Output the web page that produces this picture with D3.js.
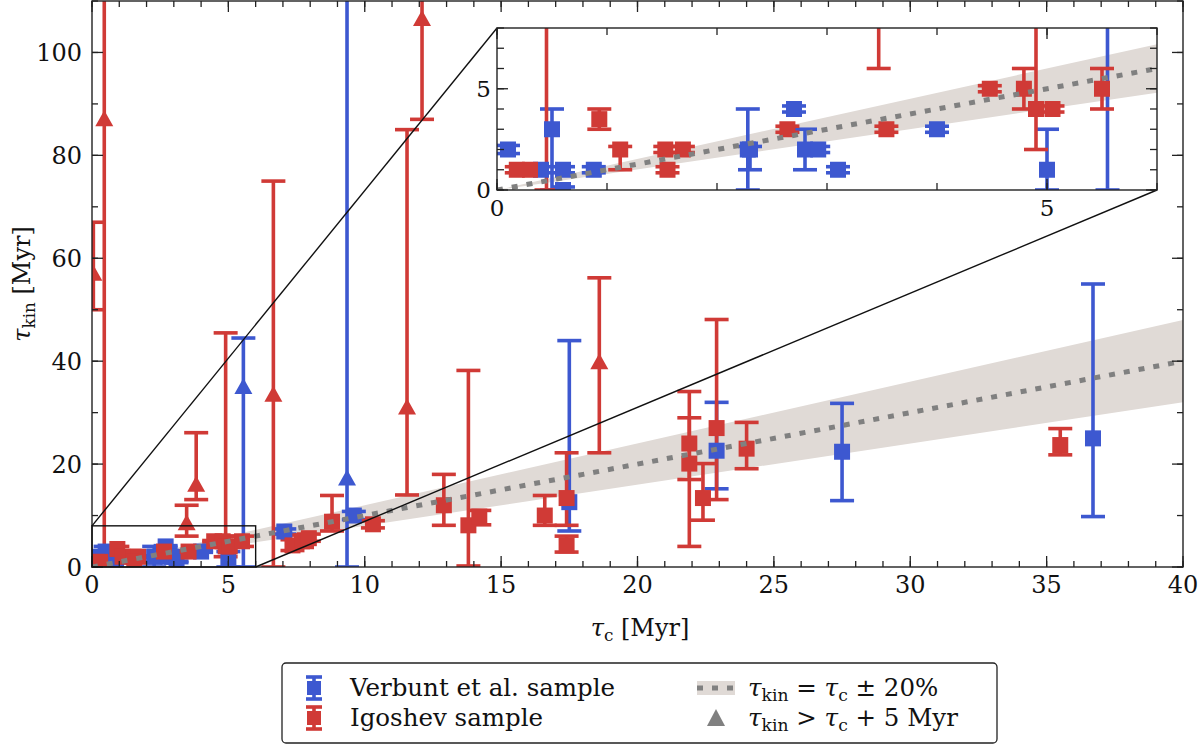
<!DOCTYPE html>
<html>
<head>
<meta charset="utf-8">
<script src="https://cdn.jsdelivr.net/npm/d3@7"></script>
<style>
  body { margin: 0; background: #fff; }
  svg { font-family: "DejaVu Serif", serif; }
</style>
</head>
<body>
<svg id="chart" width="1200" height="746"></svg>
<script>
// each point: [tau_c, tau_kin, lower, upper, drawn as triangle]
const verbunt = [
  [0.1, 2.0, 1.8, 2.2, 0], [0.4, 1.0, 0.85, 1.15, 0], [0.5, 3.0, 0.0, 4.0, 0],
  [0.6, 1.0, 0.85, 1.15, 0], [0.6, 0.0, -0.15, 0.15, 0], [0.88, 1.0, 0.85, 1.15, 0],
  [2.28, 2.0, 0.0, 4.0, 0], [2.3, 2.0, 1.0, 2.15, 0], [2.7, 4.0, 3.85, 4.15, 0],
  [2.8, 2.0, 1.0, 3.0, 0], [2.92, 2.0, 1.85, 2.15, 0], [3.1, 1.0, 0.85, 1.15, 0],
  [4.0, 3.0, 2.85, 3.15, 0], [5.0, 1.0, 0.0, 3.0, 0], [5.55, 35.0, 0.0, 44.5, 1],
  [7.05, 6.9, 6.4, 7.4, 0], [9.35, 17.2, 0.0, 130, 1], [9.6, 10.0, 9.2, 10.8, 0],
  [17.5, 12.6, 7.0, 44.0, 0], [22.9, 22.6, 15.2, 32.0, 0], [27.5, 22.4, 12.9, 31.8, 0],
  [36.7, 25.0, 9.8, 55.0, 0]
];
const igoshev = [
  [0.05, 57.0, 50.0, 67.0, 1], [0.45, 87.0, 0.0, 130, 1], [0.18, 1.0, 0.85, 1.15, 0],
  [0.3, 1.0, 0.85, 1.15, 0], [0.93, 3.5, 3.0, 4.0, 0], [1.12, 2.0, 1.0, 2.15, 0],
  [1.53, 2.0, 1.85, 2.15, 0], [1.69, 2.0, 1.85, 2.15, 0], [1.55, 1.0, 0.85, 1.15, 0],
  [2.64, 3.0, 2.85, 3.15, 0], [3.47, 8.5, 6.0, 12.0, 1], [3.54, 3.0, 2.85, 3.15, 0],
  [3.82, 16.0, 13.1, 26.1, 1], [4.48, 5.0, 4.85, 5.15, 0], [4.79, 5.0, 4.0, 6.0, 0],
  [4.9, 4.0, 2.0, 45.5, 0], [5.05, 4.0, 3.85, 4.15, 0], [5.5, 5.0, 4.0, 6.0, 0],
  [6.65, 33.5, 0.0, 75.0, 1], [7.35, 4.2, 3.2, 5.3, 0], [7.7, 5.0, 3.8, 6.2, 0],
  [7.95, 5.6, 5.0, 6.4, 0], [8.8, 8.8, 7.0, 13.9, 0], [10.3, 8.3, 7.6, 9.0, 0],
  [11.55, 31.0, 14.0, 85.0, 1], [12.1, 106.5, 87.0, 130, 1], [12.9, 12.0, 8.1, 18.0, 0],
  [13.8, 8.1, 0.2, 38.2, 0], [14.2, 9.8, 8.2, 11.0, 0], [16.6, 10.0, 8.1, 13.9, 0],
  [17.4, 13.4, 8.1, 22.2, 0], [17.4, 4.2, 2.9, 6.0, 0], [18.6, 39.8, 22.2, 56.2, 1],
  [21.9, 24.0, 4.0, 34.1, 0], [21.9, 20.1, 17.0, 29.0, 0], [22.4, 13.4, 9.1, 20.1, 0],
  [22.9, 27.0, 13.1, 48.1, 0], [24.0, 23.0, 19.1, 28.1, 0], [35.5, 23.7, 21.8, 26.9, 0]
];
const xTicks = [0, 5, 10, 15, 20, 25, 30, 35, 40];
const yTicks = [0, 20, 40, 60, 80, 100];
const insetXTicks = [0, 5];
const insetYTicks = [0, 5];
const xDomain = [0, 40], yDomain = [0, 110];
const insetXDomain = [0, 6], insetYDomain = [0, 8];
const bandFrac = 0.2;

const BLUE = "#3d58d0", RED = "#d03a36", BAND = "#e0dad6", DOTS = "#808080";

const svg = d3.select("#chart");

const x = d3.scaleLinear().domain(xDomain).range([92, 1183]);
const y = d3.scaleLinear().domain(yDomain).range([567, 1]);
const ix = d3.scaleLinear().domain(insetXDomain).range([497, 1157]);
const iy = d3.scaleLinear().domain(insetYDomain).range([190, 28]);

const defs = svg.append("defs");
defs.append("clipPath").attr("id", "clipMain").append("rect")
  .attr("x", 92).attr("y", 1).attr("width", 1091).attr("height", 566);
defs.append("clipPath").attr("id", "clipInset").append("rect")
  .attr("x", 497).attr("y", 28).attr("width", 660).attr("height", 162);

// text with italic tau and subscripts
function rich(sel, parts) {
  let shifted = false;
  parts.forEach(([txt, kind]) => {
    const t = sel.append("tspan").text(txt);
    if (kind === "i") t.attr("font-style", "italic");
    if (kind === "s") {
      t.attr("font-size", "70%").attr("dy", "0.3em");
      shifted = true;
    } else if (shifted) {
      t.attr("dy", "-0.21em");
      shifted = false;
    }
  });
  return sel;
}

function drawPanel(g, sx, sy, clipId) {
  const c = g.append("g").attr("clip-path", `url(#${clipId})`);
  const xd = sx.domain();
  // +-20% band
  c.append("path")
    .attr("d", d3.area().x(d => sx(d)).y0(d => sy(d * (1 - bandFrac))).y1(d => sy(d * (1 + bandFrac)))(xd))
    .attr("fill", BAND);

  [[verbunt, BLUE], [igoshev, RED]].forEach(([data, col]) => {
    const eb = c.append("g").attr("stroke", col).attr("stroke-width", 3.6);
    eb.selectAll("line.bar").data(data).join("line").attr("class", "bar")
      .attr("x1", d => sx(d[0])).attr("x2", d => sx(d[0]))
      .attr("y1", d => sy(d[2])).attr("y2", d => sy(d[3]));
    eb.selectAll("line.lo").data(data).join("line").attr("class", "lo")
      .attr("x1", d => sx(d[0]) - 12).attr("x2", d => sx(d[0]) + 12)
      .attr("y1", d => sy(d[2])).attr("y2", d => sy(d[2]));
    eb.selectAll("line.hi").data(data).join("line").attr("class", "hi")
      .attr("x1", d => sx(d[0]) - 12).attr("x2", d => sx(d[0]) + 12)
      .attr("y1", d => sy(d[3])).attr("y2", d => sy(d[3]));
  });

  [[verbunt, BLUE], [igoshev, RED]].forEach(([data, col]) => {
    c.append("g").selectAll("rect").data(data.filter(d => !d[4])).join("rect")
      .attr("x", d => sx(d[0]) - 8).attr("y", d => sy(d[1]) - 8)
      .attr("width", 16).attr("height", 16).attr("fill", col);
    c.append("g").selectAll("path").data(data.filter(d => d[4])).join("path")
      .attr("d", d => `M${sx(d[0])},${sy(d[1]) - 9}l9,16h-18z`)
      .attr("fill", col);
  });

  // one-to-one line
  c.append("line")
    .attr("x1", sx(xd[0])).attr("y1", sy(xd[0]))
    .attr("x2", sx(xd[1])).attr("y2", sy(xd[1]))
    .attr("stroke", DOTS).attr("stroke-width", 5).attr("stroke-dasharray", "6,9");
}

function ticks(g, sx, sy, xt, yt, xMinor, yMinor, major, minor) {
  const [x0, x1] = sx.range(), [y0, y1] = sy.range();
  const tk = g.append("g").attr("stroke", "#222").attr("stroke-width", 1.3);
  const addX = (vals, len) => vals.forEach(v => {
    tk.append("line").attr("x1", sx(v)).attr("x2", sx(v)).attr("y1", y0).attr("y2", y0 - len);
    tk.append("line").attr("x1", sx(v)).attr("x2", sx(v)).attr("y1", y1).attr("y2", y1 + len);
  });
  const addY = (vals, len) => vals.forEach(v => {
    tk.append("line").attr("y1", sy(v)).attr("y2", sy(v)).attr("x1", x0).attr("x2", x0 + len);
    tk.append("line").attr("y1", sy(v)).attr("y2", sy(v)).attr("x1", x1).attr("x2", x1 - len);
  });
  addX(xMinor, minor); addX(xt, major);
  addY(yMinor, minor); addY(yt, major);
  g.append("rect").attr("x", x0).attr("y", y1).attr("width", x1 - x0).attr("height", y0 - y1)
    .attr("fill", "none").attr("stroke", "#222").attr("stroke-width", 1.4);
}

// main panel
const main = svg.append("g");
drawPanel(main, x, y, "clipMain");
ticks(main, x, y, xTicks, yTicks, d3.range(0, 41, 1), d3.range(0, 111, 10), 11, 6);

main.append("g").selectAll("text").data(xTicks).join("text")
  .attr("x", d => x(d)).attr("y", 593).attr("text-anchor", "middle")
  .attr("font-size", 24).attr("fill", "#111").text(d => d);
main.append("g").selectAll("text").data(yTicks).join("text")
  .attr("x", 82).attr("y", d => y(d)).attr("dy", "0.36em").attr("text-anchor", "end")
  .attr("font-size", 24).attr("fill", "#111").text(d => d);

rich(main.append("text").attr("x", 640).attr("y", 636).attr("text-anchor", "middle")
  .attr("font-size", 24).attr("fill", "#111"),
  [["τ", "i"], ["c", "s"], [" [Myr]", "n"]]);
rich(main.append("text").attr("transform", "translate(30,284) rotate(-90)").attr("text-anchor", "middle")
  .attr("font-size", 24).attr("fill", "#111"),
  [["τ", "i"], ["kin", "s"], [" [Myr]", "n"]]);

// zoom box and connectors
main.append("rect")
  .attr("x", x(insetXDomain[0])).attr("y", y(insetYDomain[1]))
  .attr("width", x(insetXDomain[1]) - x(insetXDomain[0]))
  .attr("height", y(insetYDomain[0]) - y(insetYDomain[1]))
  .attr("fill", "none").attr("stroke", "#111").attr("stroke-width", 1.4);
main.append("line")
  .attr("x1", x(insetXDomain[0])).attr("y1", y(insetYDomain[1]))
  .attr("x2", ix(insetXDomain[0])).attr("y2", iy(insetYDomain[1]))
  .attr("stroke", "#111").attr("stroke-width", 1.4);
main.append("line")
  .attr("x1", x(insetXDomain[1])).attr("y1", y(insetYDomain[0]))
  .attr("x2", ix(insetXDomain[1])).attr("y2", iy(insetYDomain[0]))
  .attr("stroke", "#111").attr("stroke-width", 1.4);

// inset panel
const inset = svg.append("g");
inset.append("rect").attr("x", 497).attr("y", 28).attr("width", 660).attr("height", 162).attr("fill", "#fff");
drawPanel(inset, ix, iy, "clipInset");
ticks(inset, ix, iy, insetXTicks, insetYTicks, d3.range(0, 7, 1), d3.range(0, 9, 1), 11, 7);
inset.append("g").selectAll("text").data(insetXTicks).join("text")
  .attr("x", d => ix(d)).attr("y", 216).attr("text-anchor", "middle")
  .attr("font-size", 23).attr("fill", "#111").text(d => d);
inset.append("g").selectAll("text").data(insetYTicks).join("text")
  .attr("x", 491).attr("y", d => iy(d)).attr("dy", "0.36em").attr("text-anchor", "end")
  .attr("font-size", 23).attr("fill", "#111").text(d => d);

// legend
const leg = svg.append("g");
leg.append("rect").attr("x", 282).attr("y", 663).attr("width", 715).attr("height", 80).attr("rx", 4)
  .attr("fill", "#fff").attr("stroke", "#222").attr("stroke-width", 1.3);

const legErr = [["Verbunt et al. sample", BLUE, 688], ["Igoshev sample", RED, 718]];
legErr.forEach(([label, col, cy]) => {
  const g = leg.append("g");
  g.append("line").attr("x1", 314).attr("x2", 314).attr("y1", cy - 11).attr("y2", cy + 11)
    .attr("stroke", col).attr("stroke-width", 3.6);
  [cy - 11, cy + 11].forEach(v => g.append("line").attr("x1", 306).attr("x2", 322)
    .attr("y1", v).attr("y2", v).attr("stroke", col).attr("stroke-width", 3.6));
  g.append("rect").attr("x", 307).attr("y", cy - 7).attr("width", 14).attr("height", 14).attr("fill", col);
  g.append("text").attr("x", 350).attr("y", cy + 8).attr("font-size", 24.5).attr("fill", "#111").text(label);
});

leg.append("rect").attr("x", 697).attr("y", 681).attr("width", 38).attr("height", 14).attr("fill", BAND);
leg.append("line").attr("x1", 697).attr("x2", 735).attr("y1", 688).attr("y2", 688)
  .attr("stroke", DOTS).attr("stroke-width", 5).attr("stroke-dasharray", "6,9");
rich(leg.append("text").attr("x", 748).attr("y", 696).attr("font-size", 24.5).attr("fill", "#111"),
  [["τ", "i"], ["kin", "s"], [" = ", "n"], ["τ", "i"], ["c", "s"], [" ± 20%", "n"]]);

leg.append("path").attr("d", "M716,709l9,17h-18z").attr("fill", DOTS);
rich(leg.append("text").attr("x", 748).attr("y", 726).attr("font-size", 24.5).attr("fill", "#111"),
  [["τ", "i"], ["kin", "s"], [" > ", "n"], ["τ", "i"], ["c", "s"], [" + 5 Myr", "n"]]);
</script>
</body>
</html>
